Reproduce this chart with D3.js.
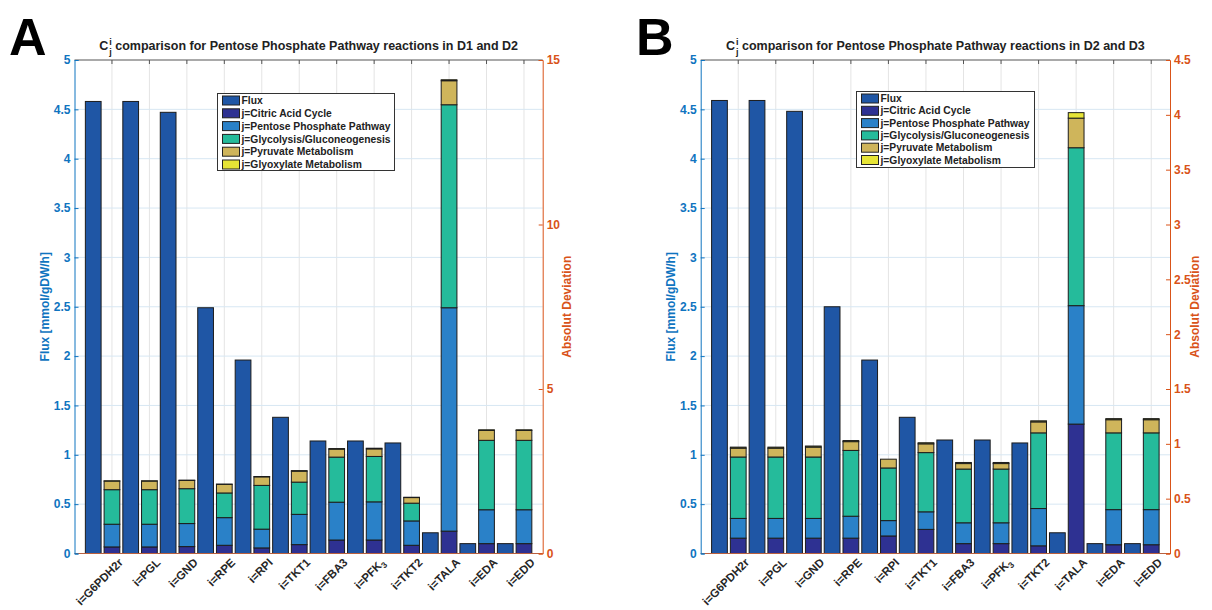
<!DOCTYPE html>
<html><head><meta charset="utf-8">
<script src="https://cdn.jsdelivr.net/npm/d3@7/dist/d3.min.js"></script>
<style>
html,body{margin:0;padding:0;background:#fff;}
text{font-family:"Liberation Sans",Arial,Helvetica,sans-serif;font-weight:bold;}
</style></head>
<body><svg id="chart" width="1212" height="610"></svg>
<script>
// ---- data ----
const categories = ["i=G6PDH2r","i=PGL","i=GND","i=RPE","i=RPI","i=TKT1","i=FBA3","i=PFK_3","i=TKT2","i=TALA","i=EDA","i=EDD"];
const seriesNames = ["Flux","j=Citric Acid Cycle","j=Pentose Phosphate Pathway","j=Glycolysis/Gluconeogenesis","j=Pyruvate Metabolism","j=Glyoxylate Metabolism"];
const leftTicks = [0,0.5,1,1.5,2,2.5,3,3.5,4,4.5,5];

// Panel A (D1 vs D2)
const fluxA   = [4.58,4.58,4.47,2.49,1.96,1.38,1.14,1.14,1.12,0.21,0.10,0.10];
const citricA = [0.20,0.20,0.21,0.25,0.17,0.27,0.41,0.41,0.25,0.68,0.30,0.30];
const pppA    = [0.69,0.69,0.70,0.84,0.57,0.92,1.15,1.16,0.74,6.79,1.03,1.03];
const glycoA  = [1.05,1.05,1.06,0.75,1.33,0.98,1.37,1.38,0.54,6.17,2.11,2.11];
const pyrA    = [0.26,0.26,0.25,0.26,0.26,0.33,0.24,0.23,0.17,0.73,0.30,0.30];
const glyoxA  = [0.01,0.01,0.01,0.01,0.01,0.02,0.02,0.02,0.01,0.03,0.02,0.02];
const rightTicksA = [0,5,10,15];

// Panel B (D2 vs D3)
const fluxB   = [4.59,4.59,4.48,2.50,1.96,1.38,1.15,1.15,1.12,0.21,0.10,0.10];
const citricB = [0.14,0.14,0.14,0.14,0.16,0.22,0.09,0.09,0.07,1.18,0.08,0.08];
const pppB    = [0.18,0.18,0.18,0.20,0.14,0.16,0.19,0.19,0.34,1.08,0.32,0.32];
const glycoB  = [0.56,0.56,0.56,0.60,0.48,0.54,0.49,0.49,0.69,1.44,0.70,0.70];
const pyrB    = [0.08,0.08,0.09,0.08,0.08,0.08,0.05,0.05,0.10,0.27,0.12,0.12];
const glyoxB  = [0.01,0.01,0.01,0.01,0.00,0.01,0.01,0.01,0.01,0.05,0.01,0.01];
const rightTicksB = [0,0.5,1,1.5,2,2.5,3,3.5,4,4.5];

// ---- style ----
const colors = ["#1f56a5","#2e3192","#2a81c8","#25bb9b","#cfb55b","#e6e436"];
const leftColor = "#0f74c0", rightColor = "#d95319";

const svg = d3.select("#chart");

function drawPanel(p){
  const g = svg.append("g");
  const x = d3.scaleLinear().domain([0,12.5]).range([p.left,p.right]);
  const yL = d3.scaleLinear().domain([0,5]).range([p.bottom,p.top]);
  const yR = d3.scaleLinear().domain([0,p.rightMax]).range([p.bottom,p.top]);
  const idx = d3.range(categories.length);

  // grid
  g.append("g").selectAll("line").data(idx).join("line")
    .attr("x1",i=>x(i+1)).attr("x2",i=>x(i+1)).attr("y1",p.top).attr("y2",p.bottom)
    .attr("stroke","#e4e4e4").attr("stroke-width",1);
  g.append("g").selectAll("line").data(leftTicks.slice(1,-1)).join("line")
    .attr("x1",p.left).attr("x2",p.right).attr("y1",d=>yL(d)).attr("y2",d=>yL(d))
    .attr("stroke","#d7e7f3").attr("stroke-width",1);

  const bw = x(0.42)-x(0);
  // flux bars
  g.append("g").selectAll("rect").data(idx).join("rect")
    .attr("x",i=>x(i+1-0.5)-bw/2).attr("width",bw)
    .attr("y",i=>yL(p.flux[i])).attr("height",i=>yL(0)-yL(p.flux[i]))
    .attr("fill",colors[0]).attr("stroke","#1c1c1c").attr("stroke-width",1);

  // stacked deviation bars (right axis)
  const comps = [p.citric,p.ppp,p.glyco,p.pyr,p.glyox];
  const rows = idx.map(i=>({i, v:comps.map(c=>c[i])}));
  const stack = d3.stack().keys([0,1,2,3,4]).value((d,k)=>d.v[k]);
  const layers = stack(rows);
  layers.forEach((layer,k)=>{
    g.append("g").selectAll("rect").data(layer).join("rect")
      .attr("x",d=>x(d.data.i+1)-bw/2).attr("width",bw)
      .attr("y",d=>yR(d[1])).attr("height",d=>Math.max(0,yR(d[0])-yR(d[1])))
      .attr("fill",colors[k+1]).attr("stroke","#1c1c1c").attr("stroke-width",1);
  });

  // axes lines
  g.append("line").attr("x1",p.left).attr("x2",p.right).attr("y1",p.top).attr("y2",p.top).attr("stroke","#555").attr("stroke-width",1);
  g.append("line").attr("x1",p.left).attr("x2",p.right).attr("y1",p.bottom).attr("y2",p.bottom).attr("stroke","#b9603f").attr("stroke-width",1);
  // top ticks
  g.append("g").selectAll("line").data(idx).join("line")
    .attr("x1",i=>x(i+1)).attr("x2",i=>x(i+1)).attr("y1",p.top).attr("y2",p.top+4)
    .attr("stroke","#555");

  // left axis
  const la = g.append("g").attr("transform",`translate(${p.left},0)`)
    .call(d3.axisLeft(yL).tickValues(leftTicks).tickSize(-4).tickPadding(4).tickFormat(d=>String(d)));
  la.select(".domain").attr("stroke",leftColor);
  la.selectAll(".tick line").attr("stroke",leftColor);
  la.selectAll(".tick text").attr("fill",leftColor).attr("font-size",12).attr("font-family",null).attr("font-weight","bold");

  // right axis
  const ra = g.append("g").attr("transform",`translate(${p.right},0)`)
    .call(d3.axisRight(yR).tickValues(p.rightTicks).tickSize(-4).tickPadding(4).tickFormat(d=>String(d)));
  ra.select(".domain").attr("stroke",rightColor);
  ra.selectAll(".tick line").attr("stroke",rightColor);
  ra.selectAll(".tick text").attr("fill",rightColor).attr("font-size",12).attr("font-family",null).attr("font-weight","bold");

  // x tick labels rotated
  idx.forEach(i=>{
    const t = g.append("text")
      .attr("transform",`translate(${x(i+1)+6},${p.bottom+4}) rotate(-45)`)
      .attr("text-anchor","end").attr("dy","0.7em").attr("font-size",11.5).attr("fill","#262626");
    const lab = categories[i];
    if(lab.includes("_")){
      const [a,b] = lab.split("_");
      t.append("tspan").text(a);
      t.append("tspan").text(b).attr("font-size",8.5).attr("dy",3);
    } else t.text(lab);
  });

  // axis titles
  g.append("text").attr("transform",`translate(${p.left-26},${(p.top+p.bottom)/2}) rotate(-90)`)
    .attr("text-anchor","middle").attr("font-size",12).attr("fill",leftColor).text("Flux [mmol/gDW/h]");
  g.append("text").attr("transform",`translate(${p.right+p.rlabOff},${(p.top+p.bottom)/2}) rotate(-90)`)
    .attr("text-anchor","middle").attr("font-size",12).attr("fill",rightColor).text("Absolut Deviation");

  // title
  const tg = g.append("g");
  const fs = 12.5;
  const c = tg.append("text").attr("x",0).attr("y",0).attr("font-size",fs).attr("fill","#222").text("C");
  const cw = c.node().getComputedTextLength();
  tg.append("text").attr("x",cw+1).attr("y",-5).attr("font-size",9).attr("fill","#222").text("i");
  tg.append("text").attr("x",cw+1).attr("y",5).attr("font-size",9).attr("fill","#222").text("j");
  const rest = tg.append("text").attr("x",cw+7).attr("y",0).attr("font-size",fs).attr("fill","#222").text(p.title);
  const tw = cw+7+rest.node().getComputedTextLength();
  tg.attr("transform",`translate(${(p.left+p.right)/2 - tw/2},${p.top-10})`);

  // panel letter
  g.append("text").attr("x",p.letterX).attr("y",55).attr("font-size",52).attr("fill","#000").text(p.letter);

  // legend
  const lg = g.append("g");
  lg.append("rect").attr("x",p.leg.x).attr("y",p.leg.y).attr("width",p.leg.w).attr("height",p.leg.h)
    .attr("fill","#fff").attr("stroke","#333").attr("stroke-width",1);
  seriesNames.forEach((n,k)=>{
    const cy = p.leg.y+7+k*p.leg.row;
    lg.append("rect").attr("x",p.leg.x+5).attr("y",cy-4.5).attr("width",17).attr("height",9)
      .attr("fill",colors[k]).attr("stroke","#222").attr("stroke-width",1);
    lg.append("text").attr("x",p.leg.x+24).attr("y",cy).attr("dy","0.35em").attr("font-size",10.3).attr("fill","#222").text(n);
  });
}

drawPanel({left:74.5,right:542.7,top:60,bottom:553.5,rightMax:15,rightTicks:rightTicksA,rlabOff:28,
  flux:fluxA,citric:citricA,ppp:pppA,glyco:glycoA,pyr:pyrA,glyox:glyoxA,
  title:"comparison for Pentose Phosphate Pathway reactions in D1 and D2",letter:"A",letterX:9,
  leg:{x:217.5,y:93.5,w:177,h:77,row:12.8}});
drawPanel({left:700.7,right:1170,top:60,bottom:553.5,rightMax:4.5,rightTicks:rightTicksB,rlabOff:29,
  flux:fluxB,citric:citricB,ppp:pppB,glyco:glycoB,pyr:pyrB,glyox:glyoxB,
  title:"comparison for Pentose Phosphate Pathway reactions in D2 and D3",letter:"B",letterX:636,
  leg:{x:856.5,y:91.5,w:178,h:76,row:12.3}});
</script></body></html>
